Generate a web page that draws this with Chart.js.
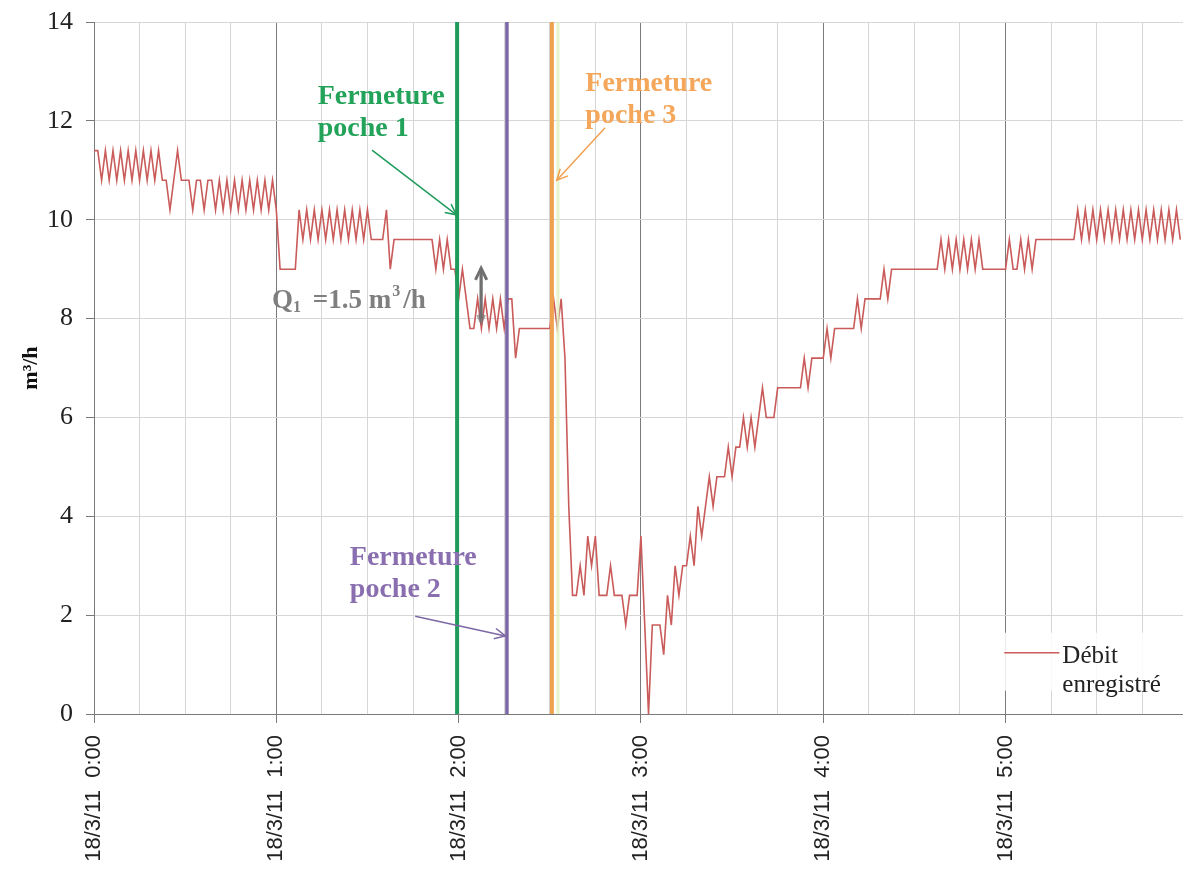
<!DOCTYPE html>
<html>
<head>
<meta charset="utf-8">
<script src="https://cdn.jsdelivr.net/npm/chart.js@4.4.1/dist/chart.umd.min.js"></script>
<style>
html,body{margin:0;padding:0;background:#fff;}
#wrap{width:1183px;height:869px;}
</style>
</head>
<body>
<div id="wrap"><canvas id="c" width="1183" height="869"></canvas></div>
<script>
// ---- data (sampling step of the logger, minutes after 18/3/11 0:00) ----
const STEP_MIN = 1.25;
const flow = [
 11.4,11.4,
 10.8,11.4,10.8,11.4,10.8,11.4,10.8,11.4,10.8,11.4,10.8,11.4,10.8,11.4,10.8,11.4,10.8,
 10.8,10.2,10.8,11.4,10.8,10.8,10.8,10.2,10.8,10.8,10.2,10.8,10.8,10.2,
 10.8,10.2,10.8,10.2,10.8,10.2,10.8,10.2,10.8,10.2,10.8,10.2,10.8,10.2,10.8,
 10.2,
 9.0,9.0,9.0,9.0,9.0,
 10.2,9.6,
 10.2,9.6,10.2,9.6,10.2,9.6,10.2,9.6,10.2,9.6,10.2,9.6,10.2,9.6,10.2,9.6,10.2,9.6,
 9.6,9.6,9.6,
 10.2,9.0,
 9.6,9.6,9.6,9.6,9.6,9.6,9.6,9.6,9.6,9.6,9.6,
 9.0,9.6,9.0,9.6,9.0,9.0,
 8.4,9.0,8.4,7.8,7.8,
 8.4,7.8,8.4,7.8,8.4,7.8,8.4,7.8,8.4,8.4,
 7.2,
 7.8,7.8,7.8,7.8,7.8,7.8,7.8,7.8,7.8,
 8.4,7.8,8.4,7.2,4.2,2.4,
 2.4,3.0,2.4,3.6,3.0,3.6,2.4,2.4,2.4,3.0,2.4,2.4,2.4,1.8,2.4,2.4,2.4,
 3.6,1.8,0,1.8,1.8,1.8,1.2,
 2.4,1.8,3.0,2.4,3.0,3.0,3.6,3.0,4.2,3.6,4.2,
 4.8,4.2,4.8,4.8,4.8,5.4,4.8,5.4,5.4,
 6.0,5.4,6.0,5.4,6.0,6.6,6.0,6.0,6.0,6.6,
 6.6,6.6,6.6,6.6,6.6,6.6,
 7.2,6.6,7.2,7.2,7.2,7.2,
 7.8,7.2,7.8,7.8,7.8,7.8,7.8,7.8,
 8.4,7.8,8.4,8.4,8.4,8.4,8.4,
 9.0,8.4,9.0,
 9.0,9.0,9.0,9.0,9.0,9.0,9.0,9.0,9.0,9.0,9.0,9.0,
 9.6,9.0,9.6,9.0,9.6,9.0,9.6,9.0,9.6,9.0,9.6,9.0,
 9.0,9.0,9.0,9.0,9.0,9.0,
 9.6,9.0,9.0,9.6,9.0,9.6,9.0,9.6,
 9.6,9.6,9.6,9.6,9.6,9.6,9.6,9.6,9.6,9.6,
 10.2,9.6,10.2,9.6,10.2,9.6,10.2,9.6,10.2,9.6,10.2,9.6,10.2,9.6,
 10.2,9.6,10.2,9.6,10.2,9.6,10.2,9.6,10.2,9.6,10.2,9.6,10.2,9.6
];
const hourLabels = ['18/3/11  0:00','18/3/11  1:00','18/3/11  2:00','18/3/11  3:00','18/3/11  4:00','18/3/11  5:00'];
const seriesLabel = 'Débit enregistré';
const yTitle = 'm³/h';
// closing events (minutes)
const closeTimes = [119.5, 135.9, 150.7];
const closeNames = [['Fermeture','poche 1'],['Fermeture','poche 2'],['Fermeture','poche 3']];
const closeColors = ['#1f9b5c','#7d68a6','#f0a150'];
const closeTextColors = ['#23a35a','#8a6fb0','#f4a65a'];
const paleLineTime = 152.7;
const q1Text = ['Q','1',' =1.5 m','3','/h'];

const X_MIN = 0, X_MAX = 358.4;

const flowPts = flow.map((v,i)=>({x:i*STEP_MIN, y:v}));
const vline = t => [{x:t,y:0},{x:t,y:14}];

const datasets = [
  {label:seriesLabel, data:flowPts, borderColor:'#c95b5a', borderWidth:1.6, pointRadius:0, tension:0, order:5},
  {label:'p1', data:vline(closeTimes[0]), borderColor:closeColors[0], borderWidth:4, pointRadius:0, order:1},
  {label:'p2', data:vline(closeTimes[1]), borderColor:closeColors[1], borderWidth:3.5, pointRadius:0, order:1},
  {label:'p3', data:vline(closeTimes[2]), borderColor:closeColors[2], borderWidth:4, pointRadius:0, order:1},
  {label:'pale', data:vline(paleLineTime), borderColor:'rgba(225,240,190,0.8)', borderWidth:3, pointRadius:0, order:2}
];

function arrow(ctx, x1,y1,x2,y2,color,w,head){
  ctx.save();
  ctx.strokeStyle=color; ctx.lineWidth=w;
  ctx.beginPath(); ctx.moveTo(x1,y1); ctx.lineTo(x2,y2); ctx.stroke();
  const a=Math.atan2(y2-y1,x2-x1), L=head||12, s=0.45;
  ctx.beginPath();
  ctx.moveTo(x2-L*Math.cos(a-s), y2-L*Math.sin(a-s));
  ctx.lineTo(x2,y2);
  ctx.lineTo(x2-L*Math.cos(a+s), y2-L*Math.sin(a+s));
  ctx.stroke();
  ctx.restore();
}

const annot = {
  id:'annot',
  afterDatasetsDraw(chart){
    const ctx=chart.ctx, xs=chart.scales.x, ys=chart.scales.y;
    const X=v=>xs.getPixelForValue(v), Y=v=>ys.getPixelForValue(v);
    ctx.save();
    // labels
    ctx.font='bold 28px "Liberation Serif", "Times New Roman", serif';
    ctx.textBaseline='middle'; ctx.textAlign='left';
    const textPos = [[73.6,12.48],[84.2,3.16],[161.7,12.75]];
    textPos.forEach((p,k)=>{
      ctx.fillStyle=closeTextColors[k];
      ctx.fillText(closeNames[k][0], X(p[0]), Y(p[1]));
      ctx.fillText(closeNames[k][1], X(p[0]), Y(p[1]) + 32);
    });
    // arrows
    arrow(ctx, X(91.5),Y(11.41), X(119.3),Y(10.10), closeColors[0],1.5,12);
    arrow(ctx, X(105.7),Y(1.98), X(135.4),Y(1.58), closeColors[1],1.5,12);
    arrow(ctx, X(168.2),Y(11.86), X(152.3),Y(10.80), closeColors[2],1.5,12);
    // Q1 double arrow
    const qx=X(127.4);
    arrow(ctx, qx,Y(8.0), qx,Y(9.02), '#707070',3,13);
    arrow(ctx, qx,Y(8.9), qx,Y(7.93), 'rgba(112,112,112,0.6)',3,8);
    // Q1 text
    ctx.fillStyle='#7f7f7f';
    let tx=X(58.6), ty=Y(8.36);
    const big='bold 27px "Liberation Serif", serif', small='bold 16px "Liberation Serif", serif';
    ctx.font=big; ctx.fillText(q1Text[0],tx,ty); tx+=ctx.measureText(q1Text[0]).width;
    ctx.font=small; ctx.fillText(q1Text[1],tx,ty+7); tx+=ctx.measureText(q1Text[1]).width+5;
    ctx.font=big; ctx.fillText(q1Text[2],tx,ty); tx+=ctx.measureText(q1Text[2]).width+1;
    ctx.font=small; ctx.fillText(q1Text[3],tx,ty-9); tx+=ctx.measureText(q1Text[3]).width+3;
    ctx.font=big; ctx.fillText(q1Text[4],tx,ty);
    // legend
    const lx=X(299.6), ly=Y(1.24);
    ctx.fillStyle='rgba(255,255,255,0.85)';
    ctx.fillRect(lx-2, ly-20, 180, 58);
    ctx.strokeStyle='#c95b5a'; ctx.lineWidth=1.5;
    ctx.beginPath(); ctx.moveTo(lx,ly); ctx.lineTo(lx+55,ly); ctx.stroke();
    ctx.fillStyle='#222';
    ctx.font='25px "Liberation Serif", serif';
    const parts=seriesLabel.split(' ');
    ctx.fillText(parts[0], lx+58, ly+4);
    ctx.fillText(parts[1], lx+58, ly+33);
    ctx.restore();
  }
};

new Chart(document.getElementById('c'), {
  type:'line',
  data:{datasets},
  options:{
    responsive:false, animation:false, devicePixelRatio:1,
    layout:{padding:{top:10,right:0,left:0,bottom:0}},
    plugins:{legend:{display:false}, tooltip:{enabled:false}},
    scales:{
      x:{type:'linear', min:X_MIN, max:X_MAX,
        afterFit(s){ s.height=155; },
        ticks:{stepSize:15, includeBounds:false, autoSkip:false, maxRotation:90, minRotation:90, padding:12,
          color:'#222', font:{family:'"Liberation Sans", Arial, sans-serif', size:22},
          callback:(v)=> (Math.abs(v%60)<1e-6 ? hourLabels[Math.round(v/60)] : '')},
        grid:{color:c=> (c.tick && Math.abs(c.tick.value%60)<1e-6) ? '#7a7a7a' : '#d6d6d6',
          tickColor:c=> (c.tick && Math.abs(c.tick.value%60)<1e-6) ? '#7a7a7a' : 'rgba(0,0,0,0)',
          tickLength:9, lineWidth:1},
        border:{color:'#7a7a7a', width:1}
      },
      y:{min:0, max:14,
        afterFit(s){ s.width=94; },
        ticks:{stepSize:2, padding:13, color:'#222', font:{family:'"Liberation Serif", "Times New Roman", serif', size:26, lineHeight:0.7}},
        grid:{color:'#d6d6d6', tickColor:'#7a7a7a', tickLength:8},
        border:{color:'#7a7a7a', width:1},
        title:{display:true, text:yTitle, color:'#111', padding:{top:18,bottom:0},
          font:{family:'"Liberation Serif", "Times New Roman", serif', size:22, weight:'bold'}}
      }
    }
  },
  plugins:[annot]
});
</script>
</body>
</html>
